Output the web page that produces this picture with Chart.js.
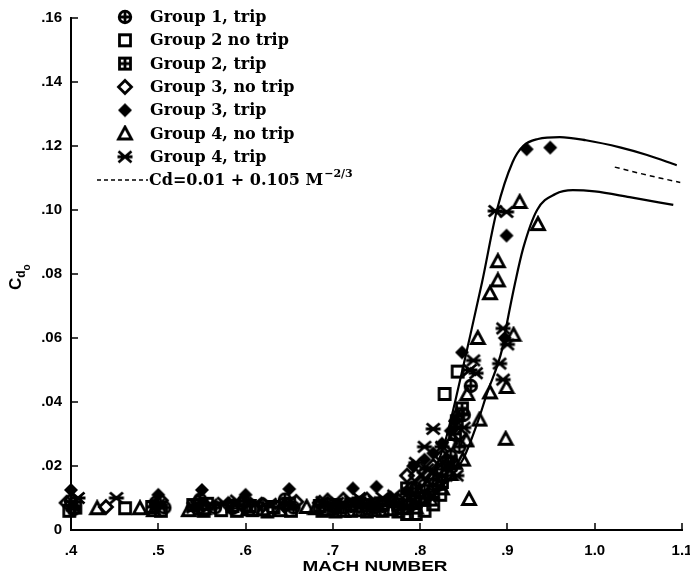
<!DOCTYPE html>
<html>
<head>
<meta charset="utf-8">
<script src="https://cdn.jsdelivr.net/npm/chart.js@4/dist/chart.umd.min.js"></script>
<style>
  html, body { margin: 0; padding: 0; background: #fff; }
  #wrap { width: 690px; height: 578px; }
</style>
</head>
<body>
<div id="wrap"><canvas id="c" width="690" height="578"></canvas></div>
<script>
// Axis ticks
const xTickValues = [0.4, 0.5, 0.6, 0.7, 0.8, 0.9, 1.0, 1.1];
const xTickLabels = ['.4', '.5', '.6', '.7', '.8', '.9', '1.0', '1.1'];
const yTickValues = [0, 0.02, 0.04, 0.06, 0.08, 0.10, 0.12, 0.14, 0.16];
const yTickLabels = ['0', '.02', '.04', '.06', '.08', '.10', '.12', '.14', '.16'];

// Measured drag coefficient vs Mach number, [M, Cd0]
const group1Trip = [
  [0.400,0.0090],[0.403,0.0065],[0.497,0.0085],[0.507,0.0070],[0.545,0.0068],[0.548,0.0095],
  [0.565,0.0070],[0.585,0.0068],[0.598,0.0090],[0.645,0.0095],[0.655,0.0070],[0.694,0.0080],
  [0.703,0.0068],[0.712,0.0070],[0.721,0.0075],[0.730,0.0085],[0.739,0.0068],[0.748,0.0070],
  [0.757,0.0075],[0.766,0.0090],[0.775,0.0070],[0.785,0.0090],[0.790,0.0080],[0.795,0.0130],
  [0.800,0.0100],[0.805,0.0140],[0.810,0.0110],[0.815,0.0160],[0.820,0.0140],[0.825,0.0190],
  [0.830,0.0170],[0.835,0.0230],[0.845,0.0260],[0.850,0.0360],[0.858,0.0450]
];
const group2NoTrip = [
  [0.398,0.0060],[0.462,0.0068],[0.503,0.0060],[0.552,0.0060],[0.572,0.0062],[0.590,0.0060],
  [0.608,0.0062],[0.625,0.0058],[0.652,0.0060],[0.688,0.0060],[0.703,0.0058],[0.721,0.0060],
  [0.739,0.0058],[0.757,0.0060],[0.775,0.0058],[0.785,0.0050],[0.795,0.0050],[0.805,0.0060],
  [0.815,0.0080],[0.823,0.0110],[0.828,0.0425],[0.843,0.0495]
];
const group2Trip = [
  [0.405,0.0070],[0.493,0.0072],[0.540,0.0078],[0.556,0.0082],[0.585,0.0075],[0.605,0.0075],
  [0.632,0.0072],[0.650,0.0082],[0.685,0.0075],[0.703,0.0078],[0.721,0.0080],[0.739,0.0078],
  [0.757,0.0082],[0.775,0.0080],[0.785,0.0130],[0.795,0.0090],[0.805,0.0100],[0.815,0.0120],
  [0.825,0.0150],[0.832,0.0210],[0.840,0.0300],[0.842,0.0340],[0.848,0.0380]
];
const group3NoTrip = [
  [0.395,0.0085],[0.440,0.0072],[0.498,0.0075],[0.503,0.0092],[0.545,0.0088],[0.552,0.0078],
  [0.580,0.0080],[0.595,0.0082],[0.600,0.0070],[0.620,0.0078],[0.645,0.0075],[0.658,0.0088],
  [0.685,0.0085],[0.694,0.0092],[0.703,0.0072],[0.712,0.0095],[0.730,0.0075],[0.739,0.0095],
  [0.748,0.0080],[0.766,0.0098],[0.775,0.0092],[0.785,0.0170],[0.790,0.0130],[0.795,0.0170],
  [0.800,0.0150],[0.805,0.0180],[0.810,0.0170],[0.815,0.0200],[0.820,0.0190],[0.825,0.0230],
  [0.830,0.0220],[0.835,0.0270],[0.845,0.0300]
];
const group3Trip = [
  [0.400,0.0125],[0.500,0.0110],[0.550,0.0125],[0.600,0.0110],[0.650,0.0128],[0.723,0.0130],
  [0.750,0.0135],[0.785,0.0120],[0.792,0.0200],[0.805,0.0220],[0.815,0.0240],[0.825,0.0270],
  [0.835,0.0310],[0.840,0.0340],[0.848,0.0555],[0.897,0.0600],[0.899,0.0920],[0.922,0.1190],
  [0.949,0.1195]
];
const group4NoTrip = [
  [0.430,0.0068],[0.479,0.0068],[0.495,0.0062],[0.535,0.0062],[0.552,0.0068],[0.603,0.0065],
  [0.620,0.0065],[0.640,0.0062],[0.670,0.0072],[0.680,0.0068],[0.694,0.0065],[0.712,0.0060],
  [0.730,0.0062],[0.748,0.0062],[0.766,0.0065],[0.780,0.0068],[0.795,0.0070],[0.812,0.0095],
  [0.825,0.0130],[0.835,0.0175],[0.840,0.0210],[0.842,0.0360],[0.849,0.0220],[0.853,0.0280],
  [0.854,0.0425],[0.856,0.0097],[0.866,0.0600],[0.868,0.0345],[0.880,0.0430],[0.880,0.0740],
  [0.889,0.0780],[0.889,0.0840],[0.898,0.0285],[0.899,0.0447],[0.907,0.0610],[0.914,0.1025],
  [0.935,0.0956]
];
const group4Trip = [
  [0.402,0.0075],[0.408,0.0100],[0.452,0.0100],[0.500,0.0080],[0.540,0.0070],[0.560,0.0080],
  [0.575,0.0085],[0.590,0.0092],[0.612,0.0085],[0.628,0.0082],[0.648,0.0085],[0.688,0.0088],
  [0.705,0.0085],[0.721,0.0090],[0.730,0.0100],[0.748,0.0090],[0.757,0.0100],[0.770,0.0108],
  [0.785,0.0070],[0.795,0.0210],[0.805,0.0260],[0.808,0.0190],[0.815,0.0316],[0.825,0.0260],
  [0.835,0.0200],[0.842,0.0170],[0.850,0.0320],[0.857,0.0500],[0.861,0.0530],[0.864,0.0490],
  [0.886,0.0997],[0.891,0.0520],[0.895,0.0470],[0.895,0.0630],[0.899,0.0994],[0.900,0.0580]
];

// Faired bounds of the data
const upperCurve = [
  [0.760,0.0075],[0.780,0.0090],[0.800,0.0130],[0.820,0.0210],[0.830,0.0290],[0.840,0.0400],
  [0.854,0.0567],[0.871,0.0775],[0.888,0.1000],[0.906,0.1150],[0.918,0.1200],[0.935,0.1222],
  [0.960,0.1228],[0.990,0.1218],[1.030,0.1195],[1.060,0.1172],[1.094,0.1140]
];
const lowerCurve = [
  [0.780,0.0050],[0.800,0.0075],[0.823,0.0130],[0.849,0.0220],[0.865,0.0330],[0.877,0.0430],
  [0.894,0.0566],[0.899,0.0640],[0.909,0.0775],[0.918,0.0880],[0.934,0.1000],[0.955,0.1050],
  [0.975,0.1062],[1.000,0.1058],[1.040,0.1040],[1.090,0.1016]
];
// Cd = 0.01 + 0.105 M^-2/3
const formulaCurve = [[1.023,0.1134],[1.060,0.1109],[1.098,0.1086]];

const toXY = arr => arr.map(p => ({ x: p[0], y: p[1] }));

// Marker glyphs drawn once onto small canvases
function marker(kind) {
  const s = 18, c = document.createElement('canvas');
  c.width = s; c.height = s;
  const g = c.getContext('2d');
  g.strokeStyle = '#000'; g.fillStyle = '#000'; g.lineWidth = 2.8; g.lineJoin = 'miter';
  const m = s / 2;
  g.beginPath();
  switch (kind) {
    case 'circlePlus':
      g.arc(m, m, 5.8, 0, Math.PI * 2);
      g.moveTo(m - 5.8, m); g.lineTo(m + 5.8, m);
      g.moveTo(m, m - 5.8); g.lineTo(m, m + 5.8);
      g.stroke(); break;
    case 'square':
      g.rect(m - 5.5, m - 5.5, 11, 11); g.stroke(); break;
    case 'squarePlus':
      g.rect(m - 5.5, m - 5.5, 11, 11);
      g.moveTo(m - 5.5, m); g.lineTo(m + 5.5, m);
      g.moveTo(m, m - 5.5); g.lineTo(m, m + 5.5);
      g.stroke(); break;
    case 'diamond':
      g.moveTo(m, m - 6.5); g.lineTo(m + 6.5, m); g.lineTo(m, m + 6.5); g.lineTo(m - 6.5, m); g.closePath();
      g.stroke(); break;
    case 'diamondFilled':
      g.moveTo(m, m - 7); g.lineTo(m + 7, m); g.lineTo(m, m + 7); g.lineTo(m - 7, m); g.closePath();
      g.fill(); break;
    case 'triangle':
      g.moveTo(m, m - 6.5); g.lineTo(m + 6.5, m + 5.5); g.lineTo(m - 6.5, m + 5.5); g.closePath();
      g.stroke(); break;
    case 'asterisk':
      g.moveTo(m - 6.5, m - 5.5); g.lineTo(m + 6.5, m + 5.5);
      g.moveTo(m - 6.5, m + 5.5); g.lineTo(m + 6.5, m - 5.5);
      g.moveTo(m - 7.5, m); g.lineTo(m + 7.5, m);
      g.stroke(); break;
  }
  return c;
}

const groups = [
  { label: 'Group 1, trip',     data: group1Trip,   glyph: marker('circlePlus') },
  { label: 'Group 2 no trip',   data: group2NoTrip, glyph: marker('square') },
  { label: 'Group 2, trip',     data: group2Trip,   glyph: marker('squarePlus') },
  { label: 'Group 3, no trip',  data: group3NoTrip, glyph: marker('diamond') },
  { label: 'Group 3, trip',     data: group3Trip,   glyph: marker('diamondFilled') },
  { label: 'Group 4, no trip',  data: group4NoTrip, glyph: marker('triangle') },
  { label: 'Group 4, trip',     data: group4Trip,   glyph: marker('asterisk') }
];

const curveStyle = {
  type: 'line', showLine: true, pointRadius: 0, borderColor: '#000', borderWidth: 2.2,
  cubicInterpolationMode: 'monotone', fill: false, clip: false
};

const datasets = [
  Object.assign({ label: 'upper', data: toXY(upperCurve) }, curveStyle),
  Object.assign({ label: 'lower', data: toXY(lowerCurve) }, curveStyle),
  Object.assign({ label: 'Cd=0.01 + 0.105 M^-2/3', data: toXY(formulaCurve) }, curveStyle,
                { borderWidth: 1.5, borderDash: [5, 4], cubicInterpolationMode: 'default', tension: 0 })
].concat(groups.map(g => ({
  type: 'scatter', label: g.label, data: toXY(g.data),
  pointStyle: g.glyph, pointRadius: 6, clip: false
})));

const L = 71, R = 682, T = 18, B = 530;
const W = 690, H = 578;

// Inward tick marks, axis titles and the key
const decor = {
  id: 'decor',
  afterDraw(chart) {
    const ctx = chart.ctx, xs = chart.scales.x, ys = chart.scales.y;
    const a = chart.chartArea;
    ctx.save();
    ctx.strokeStyle = '#000'; ctx.lineWidth = 1.5;
    ctx.beginPath();
    yTickValues.forEach(v => { const py = Math.round(ys.getPixelForValue(v)); ctx.moveTo(a.left, py); ctx.lineTo(a.left + 7, py); });
    xTickValues.forEach(v => { const px = Math.round(xs.getPixelForValue(v)); ctx.moveTo(px, a.bottom); ctx.lineTo(px, a.bottom - 7); });
    ctx.stroke();

    // x title
    ctx.fillStyle = '#000';
    ctx.font = 'bold 15px "Liberation Sans", Arial, sans-serif';
    ctx.textBaseline = 'middle'; ctx.textAlign = 'center';
    const xt = 'MACH NUMBER';
    const wNat = ctx.measureText(xt).width;
    ctx.save();
    ctx.translate(375, 567);
    ctx.scale(145 / wNat, 1);
    ctx.fillText(xt, 0, 0);
    ctx.restore();

    // y title C_d_o
    ctx.save();
    ctx.translate(21, 276);
    ctx.rotate(-Math.PI / 2);
    ctx.textAlign = 'left'; ctx.textBaseline = 'alphabetic';
    ctx.font = 'bold 17px "Liberation Sans", Arial, sans-serif';
    ctx.fillText('C', -14, 0);
    const cw = ctx.measureText('C').width;
    ctx.font = 'bold 12px "Liberation Sans", Arial, sans-serif';
    ctx.fillText('d', -14 + cw, 4);
    const dw = ctx.measureText('d').width;
    ctx.font = 'bold 10px "Liberation Sans", Arial, sans-serif';
    ctx.fillText('o', -14 + cw + dw, 9);
    ctx.restore();

    // key
    const rowY = i => 17 + i * 23.3;
    ctx.textAlign = 'left'; ctx.textBaseline = 'middle';
    ctx.font = 'bold 16px "DejaVu Serif", serif';
    groups.forEach((g, i) => {
      const y = rowY(i);
      ctx.drawImage(g.glyph, 125 - g.glyph.width / 2, y - g.glyph.height / 2);
      ctx.fillText(g.label, 150, y + 1);
    });
    const y7 = rowY(7);
    ctx.lineWidth = 1.5; ctx.setLineDash([4, 3]);
    ctx.beginPath(); ctx.moveTo(97, y7); ctx.lineTo(148, y7); ctx.stroke();
    ctx.setLineDash([]);
    const base = 'Cd=0.01 + 0.105 M';
    ctx.fillText(base, 149, y7 + 1);
    const bw = ctx.measureText(base).width;
    ctx.font = 'bold 11px "DejaVu Serif", serif';
    ctx.fillText('\u22122/3', 149 + bw + 1, y7 - 6);
    ctx.restore();
  }
};

new Chart(document.getElementById('c'), {
  type: 'scatter',
  data: { datasets },
  plugins: [decor],
  options: {
    responsive: false,
    animation: false,
    events: [],
    layout: { padding: { left: 0, right: W - R, top: T, bottom: 0 } },
    plugins: { legend: { display: false }, tooltip: { enabled: false }, title: { display: false } },
    scales: {
      x: {
        type: 'linear', min: 0.4, max: 1.1,
        afterBuildTicks: s => { s.ticks = xTickValues.map(v => ({ value: v })); },
        afterFit: s => { s.height = H - B; s.paddingLeft = 0; s.paddingRight = 0; },
        grid: { display: true, drawOnChartArea: false, drawTicks: false },
        border: { display: true, color: '#000', width: 2 },
        ticks: {
          padding: 12, color: '#000', maxRotation: 0, autoSkip: false,
          font: { family: '"Liberation Sans", Arial, sans-serif', size: 15, weight: 'bold' },
          callback: (v, i) => xTickLabels[i]
        }
      },
      y: {
        type: 'linear', min: 0, max: 0.16,
        afterBuildTicks: s => { s.ticks = yTickValues.map(v => ({ value: v })); },
        afterFit: s => { s.width = L; s.paddingTop = 0; s.paddingBottom = 0; },
        grid: { display: true, drawOnChartArea: false, drawTicks: false },
        border: { display: true, color: '#000', width: 2 },
        ticks: {
          padding: 9, color: '#000', autoSkip: false,
          font: { family: '"Liberation Sans", Arial, sans-serif', size: 15, weight: 'bold' },
          callback: (v, i) => yTickLabels[i]
        }
      }
    }
  }
});
</script>
</body>
</html>
